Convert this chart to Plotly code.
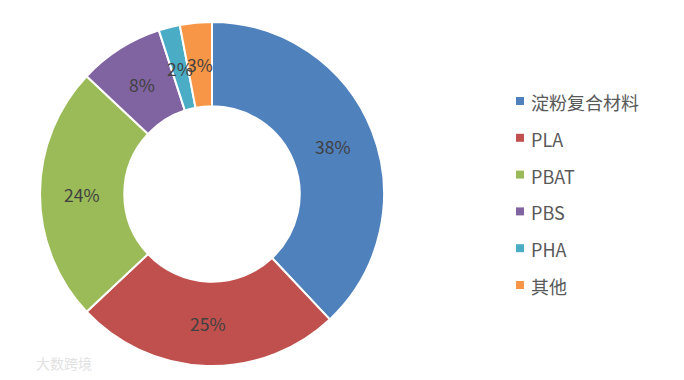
import math
import plotly.graph_objects as go

categories = ["淀粉复合材料", "PLA", "PBAT", "PBS", "PHA", "其他"]
shares = [38, 25, 24, 8, 2, 3]
colors = ["#4F81BD", "#C0504D", "#9BBB59", "#8064A2", "#4BACC6", "#F79646"]

W, H = 684, 380
OFF = 8  # default page body margin
cx, cy, r = 212 - OFF, 194 - OFF, 172
hole = 0.51
FONT = "Noto Sans CJK SC, Noto Sans, sans-serif"

fig = go.Figure(go.Pie(
    labels=categories,
    values=shares,
    hole=hole,
    sort=False,
    direction="clockwise",
    rotation=0,
    marker=dict(colors=colors, line=dict(color="white", width=2)),
    textinfo="none",
    showlegend=False,
    domain=dict(x=[(cx - r) / W, (cx + r) / W], y=[(H - cy - r) / H, (H - cy + r) / H]),
))

# data labels centred on the ring's mid radius at each slice's mid angle (Excel style)
annotations = []
total = sum(shares)
cum = 0
rm = r * (1 + hole) / 2
for v in shares:
    mid = (cum + v / 2) / total * 2 * math.pi
    cum += v
    px = cx + rm * math.sin(mid)
    py = cy - rm * math.cos(mid)
    annotations.append(dict(
        text=f"{v}%", x=px / W, y=1 - py / H, xref="paper", yref="paper",
        showarrow=False, xanchor="center", yanchor="middle",
        font=dict(size=17.5, color="#404040", family=FONT),
    ))

# legend drawn manually to match the original's roomy spacing
shapes = []
leg_x, leg_y0, leg_dy, sq = 520 - OFF, 101 - OFF, 36.8, 8
for i, (cat, col) in enumerate(zip(categories, colors)):
    yc = leg_y0 + i * leg_dy
    shapes.append(dict(
        type="rect", xref="paper", yref="paper",
        x0=(leg_x - sq / 2) / W, x1=(leg_x + sq / 2) / W,
        y0=1 - (yc + sq / 2) / H, y1=1 - (yc - sq / 2) / H,
        fillcolor=col, line=dict(width=0),
    ))
    annotations.append(dict(
        text=cat, x=(leg_x + 9) / W, y=1 - (yc + 1) / H, xref="paper", yref="paper",
        showarrow=False, xanchor="left", yanchor="middle",
        font=dict(size=18, color="#595959", family=FONT),
    ))

annotations.append(dict(
    text="大数跨境", x=(34 - OFF) / W, y=1 - (363 - OFF) / H, xref="paper", yref="paper",
    showarrow=False, xanchor="left", yanchor="middle",
    font=dict(size=14, color="#E2E2E2", family=FONT),
))

fig.update_layout(
    width=W, height=H,
    margin=dict(l=0, r=0, t=0, b=0),
    paper_bgcolor="white",
    plot_bgcolor="white",
    font=dict(family=FONT),
    shapes=shapes,
    annotations=annotations,
)

fig.write_html("out.html")
